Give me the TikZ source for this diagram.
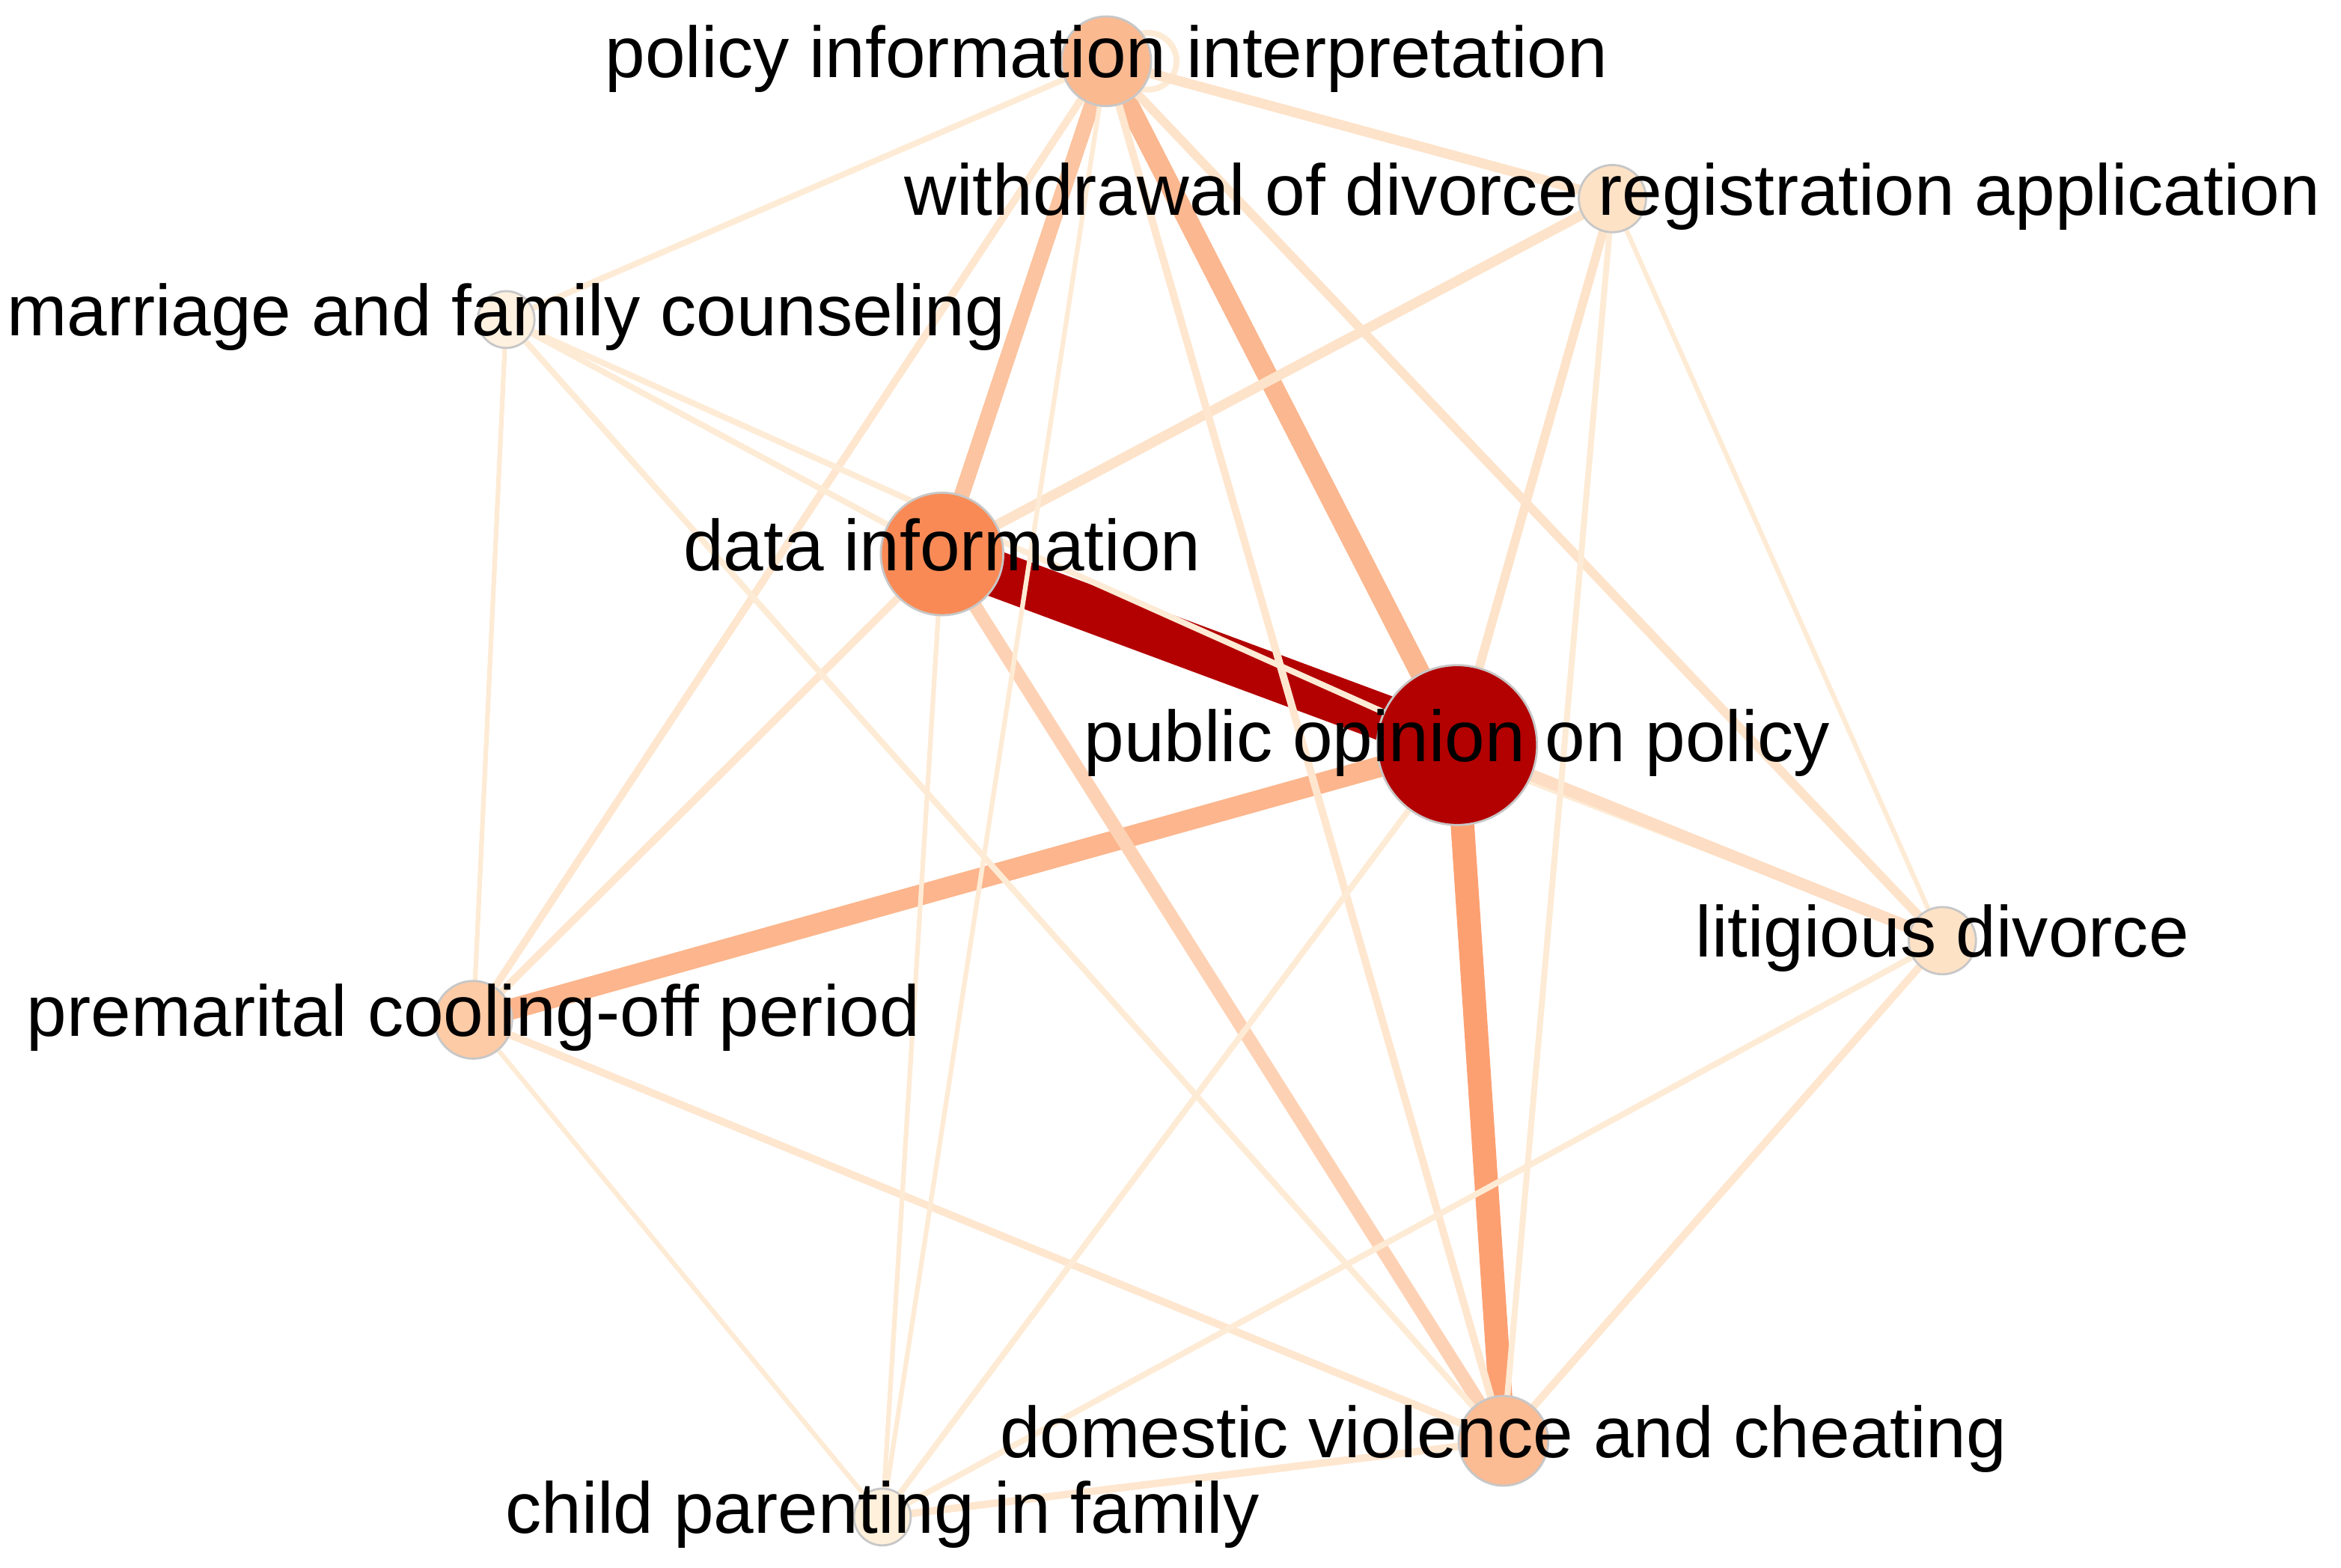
\documentclass[tikz,border=0pt]{standalone}
\usepackage{fontspec}
\setmainfont{Liberation Sans}
\pgfdeclarelayer{bg}
\pgfsetlayers{bg,main}
\definecolor{cPO}{HTML}{B30000}
\definecolor{cDI}{HTML}{F98A55}
\definecolor{cPII}{HTML}{FBB990}
\definecolor{cDVC}{HTML}{FBBB93}
\definecolor{cPCO}{HTML}{FDCBA6}
\definecolor{cWDR}{HTML}{FEE2C6}
\definecolor{cLD}{HTML}{FEE2C6}
\definecolor{cMFC}{HTML}{FEF1E0}
\definecolor{cCPF}{HTML}{FEF0DA}
\definecolor{eA}{HTML}{B30000}
\definecolor{eB}{HTML}{FCA072}
\definecolor{eC}{HTML}{FCB58C}
\definecolor{eD}{HTML}{FBB78F}
\definecolor{eE}{HTML}{FCC4A0}
\definecolor{eF}{HTML}{FDD2B4}
\definecolor{eG}{HTML}{FDDDC3}
\definecolor{eH}{HTML}{FDE3CA}
\definecolor{eI}{HTML}{FEE6CF}
\definecolor{eJ}{HTML}{FEEBD5}
\tikzset{
  vtx/.style={circle, inner sep=0pt, draw=black!22, line width=0.4pt},
  lbl/.style={anchor=base, inner sep=0pt, text=black, font=\fontsize{13.74}{16}\selectfont},
  wA/.style={draw=eA, line width=8.8pt},
  wB/.style={draw=eB, line width=4.5pt},
  wC/.style={draw=eC, line width=3.98pt},
  wD/.style={draw=eD, line width=3.85pt},
  wE/.style={draw=eE, line width=2.95pt},
  wF/.style={draw=eF, line width=2.56pt},
  wG/.style={draw=eG, line width=2.28pt},
  wH/.style={draw=eH, line width=1.9pt},
  wI/.style={draw=eH, line width=1.7pt},
  wJ/.style={draw=eI, line width=1.42pt},
  wK/.style={draw=eJ, line width=1.14pt},
  wL/.style={draw=eJ, line width=0.9pt},
}
\begin{document}
\begin{tikzpicture}[x=0.01cm, y=-0.01cm]
\useasboundingbox (0,0) rectangle (1568,1050);
% nodes
\node[vtx, fill=cPII, minimum size=0.60cm] (PII) at (741,41) {};
\node[vtx, fill=cWDR, minimum size=0.45cm] (WDR) at (1080,133) {};
\node[vtx, fill=cMFC, minimum size=0.38cm] (MFC) at (339,214) {};
\node[vtx, fill=cDI, minimum size=0.82cm] (DI) at (631,371) {};
\node[vtx, fill=cPO, minimum size=1.07cm] (PO) at (976,499) {};
\node[vtx, fill=cLD, minimum size=0.45cm] (LD) at (1301,630) {};
\node[vtx, fill=cPCO, minimum size=0.52cm] (PCO) at (317,683) {};
\node[vtx, fill=cDVC, minimum size=0.60cm] (DVC) at (1007,965) {};
\node[vtx, fill=cCPF, minimum size=0.38cm] (CPF) at (591,1016) {};
\coordinate (PIIloop) at (769,41);
% labels
\node[lbl] (PII-l) at (741,52) {policy information interpretation};
\node[lbl] (WDR-l) at (1080,144) {withdrawal of divorce registration application};
\node[lbl] (MFC-l) at (339,225) {marriage and family counseling};
\node[lbl] (DI-l) at (631,382) {data information};
\node[lbl] (PO-l) at (976,510) {public opinion on policy};
\node[lbl] (LD-l) at (1301,641) {litigious divorce};
\node[lbl] (PCO-l) at (317,694) {premarital cooling-off period};
\node[lbl] (DVC-l) at (1007,976) {domestic violence and cheating};
\node[lbl] (CPF-l) at (591,1027) {child parenting in family};
% edges
\begin{pgfonlayer}{bg}
\draw[wK] (PIIloop) circle[radius=0.19cm];
\draw[wK] (DI.center) -- (LD.center);
\draw[wA] (DI.center) -- (PO.center);
\draw[wB] (PO.center) -- (DVC.center);
\draw[wC] (PCO.center) -- (PO.center);
\draw[wD] (PII.center) -- (PO.center);
\draw[wE] (PII.center) -- (DI.center);
\draw[wF] (DI.center) -- (DVC.center);
\draw[wG] (PO.center) -- (LD.center);
\draw[wH] (PII.center) -- (WDR.center);
\draw[wH] (WDR.center) -- (DI.center);
\draw[wI] (PII.center) -- (LD.center);
\draw[wI] (WDR.center) -- (PO.center);
\draw[wJ] (DI.center) -- (PCO.center);
\draw[wJ] (PII.center) -- (PCO.center);
\draw[wJ] (DVC.center) -- (LD.center);
\draw[wJ] (DVC.center) -- (CPF.center);
\draw[wJ] (PCO.center) -- (DVC.center);
\draw[wJ] (PII.center) -- (DVC.center);
\draw[wK] (MFC.center) -- (DI.center);
\draw[wK] (MFC.center) -- (PO.center);
\draw[wK] (PO.center) -- (CPF.center);
\draw[wK] (LD.center) -- (CPF.center);
\draw[wK] (MFC.center) -- (DVC.center);
\draw[wK] (WDR.center) -- (DVC.center);
\draw[wK] (PII.center) -- (MFC.center);
\draw[wL] (WDR.center) -- (LD.center);
\draw[wL] (DI.center) -- (CPF.center);
\draw[wL] (PII.center) -- (CPF.center);
\draw[wL] (MFC.center) -- (PCO.center);
\draw[wL] (PCO.center) -- (CPF.center);
\end{pgfonlayer}
\end{tikzpicture}
\end{document}
